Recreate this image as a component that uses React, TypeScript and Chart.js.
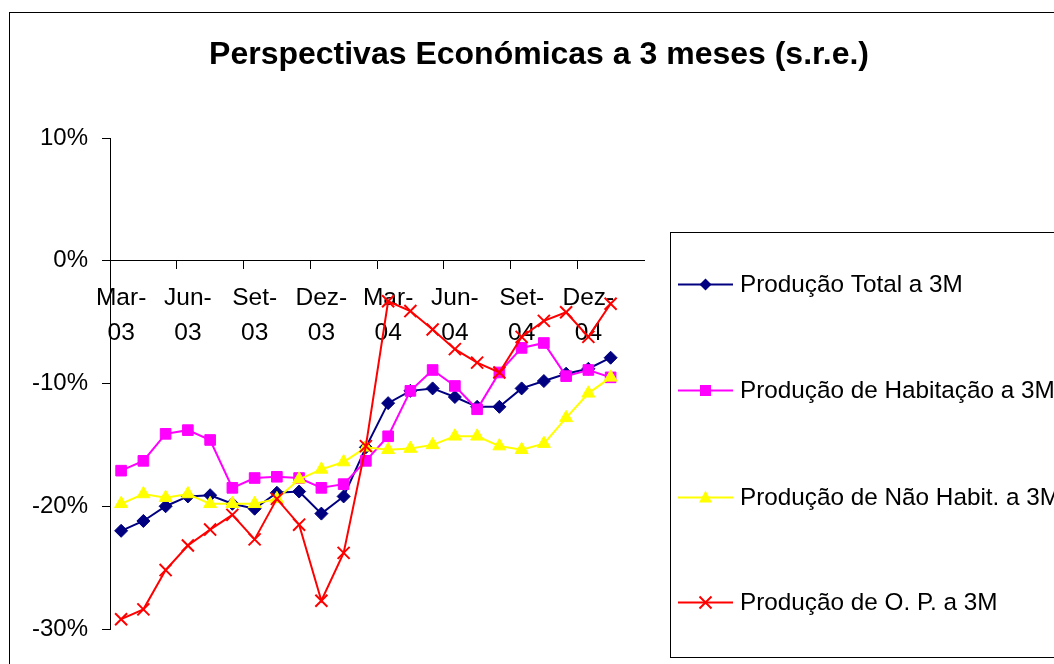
import React, { useEffect, useRef } from 'react';
import { Chart, registerables } from 'chart.js';

Chart.register(...registerables);

const FONT = '"Liberation Sans", Arial, Helvetica, sans-serif';

const chartTitle = 'Perspectivas Económicas a 3 meses (s.r.e.)';

const categories = [
  'Mar-03', 'Abr-03', 'Mai-03', 'Jun-03', 'Jul-03', 'Ago-03', 'Set-03', 'Out-03',
  'Nov-03', 'Dez-03', 'Jan-04', 'Fev-04', 'Mar-04', 'Abr-04', 'Mai-04', 'Jun-04',
  'Jul-04', 'Ago-04', 'Set-04', 'Out-04', 'Nov-04', 'Dez-04', 'Jan-05', 'Fev-05',
];

const producaoTotal = [
  -22.0, -21.2, -20.0, -19.2, -19.1, -19.8, -20.2, -18.9, -18.8, -20.6, -19.2, -15.2,
  -11.6, -10.6, -10.4, -11.1, -11.9, -11.9, -10.4, -9.8, -9.2, -8.8, -7.9,
];

const producaoHabitacao = [
  -17.1, -16.3, -14.1, -13.8, -14.6, -18.5, -17.7, -17.6, -17.7, -18.5, -18.2, -16.3,
  -14.3, -10.6, -8.9, -10.2, -12.1, -9.1, -7.1, -6.7, -9.4, -8.9, -9.5,
];

const producaoNaoHabit = [
  -19.8, -19.0, -19.3, -19.0, -19.8, -19.8, -19.8, -19.4, -17.8, -17.0, -16.4, -15.2,
  -15.4, -15.3, -15.0, -14.3, -14.3, -15.1, -15.4, -14.9, -12.8, -10.8, -9.5,
];

const producaoOP = [
  -29.2, -28.4, -25.2, -23.2, -21.9, -20.7, -22.7, -19.4, -21.5, -27.7, -23.8, -15.1,
  -3.3, -4.1, -5.6, -7.2, -8.3, -9.1, -6.2, -4.9, -4.2, -6.2, -3.5,
];

const seriesNames = [
  'Produção Total a 3M',
  'Produção de Habitação a 3M',
  'Produção de Não Habit. a 3M',
  'Produção de O. P. a 3M',
];

const yTicks = [-30, -20, -10, 0, 10];

function splitLabel(label: string): string[] {
  const [m, y] = label.split('-');
  return [m + '-', y];
}

function drawMarker(ctx: CanvasRenderingContext2D, style: string, x: number, y: number, color: string) {
  ctx.save();
  ctx.fillStyle = color;
  ctx.strokeStyle = color;
  ctx.lineWidth = 1;
  ctx.beginPath();
  if (style === 'rectRot') {
    const r = 6;
    ctx.moveTo(x - r, y);
    ctx.lineTo(x, y - r);
    ctx.lineTo(x + r, y);
    ctx.lineTo(x, y + r);
    ctx.closePath();
    ctx.fill();
  } else if (style === 'rect') {
    ctx.rect(x - 5.5, y - 5.5, 11, 11);
    ctx.fill();
  } else if (style === 'triangle') {
    ctx.moveTo(x, y - 7);
    ctx.lineTo(x + 6.5, y + 5);
    ctx.lineTo(x - 6.5, y + 5);
    ctx.closePath();
    ctx.fill();
  } else {
    ctx.lineWidth = 2;
    const d = 6;
    ctx.moveTo(x - d, y - d);
    ctx.lineTo(x + d, y + d);
    ctx.moveTo(x + d, y - d);
    ctx.lineTo(x - d, y + d);
    ctx.stroke();
  }
  ctx.restore();
}

const framePlugin = {
  id: 'frame',
  beforeDraw(chart: any) {
    const ctx: CanvasRenderingContext2D = chart.ctx;
    ctx.save();
    ctx.fillStyle = '#ffffff';
    ctx.fillRect(0, 0, chart.width, chart.height);
    ctx.strokeStyle = '#000000';
    ctx.lineWidth = 1;
    ctx.strokeRect(9.5, 12.5, 3000, 3000);
    ctx.fillStyle = '#000000';
    ctx.font = `bold 32px ${FONT}`;
    ctx.textAlign = 'center';
    ctx.textBaseline = 'middle';
    ctx.fillText(chartTitle, 539, 55);
    ctx.restore();
  },
  afterDraw(chart: any) {
    const ctx: CanvasRenderingContext2D = chart.ctx;
    ctx.save();
    ctx.strokeStyle = '#000000';
    ctx.lineWidth = 1;
    ctx.strokeRect(670.5, 232.5, 1000, 425);
    const rows = [284, 390, 497, 602];
    chart.data.datasets.forEach((ds: any, i: number) => {
      const y = rows[i];
      ctx.strokeStyle = ds.borderColor;
      ctx.lineWidth = 2;
      ctx.beginPath();
      ctx.moveTo(678, y + 0.5);
      ctx.lineTo(733, y + 0.5);
      ctx.stroke();
      drawMarker(ctx, ds.pointStyle, 705.5, y + 0.5, ds.borderColor);
      ctx.fillStyle = '#000000';
      ctx.font = `24.3px ${FONT}`;
      ctx.textAlign = 'left';
      ctx.textBaseline = 'middle';
      ctx.fillText(ds.label, 740, y + 1);
    });
    ctx.restore();
  },
};

export default function App() {
  const ref = useRef<HTMLCanvasElement>(null);

  useEffect(() => {
    if (!ref.current) return;
    const chart = new Chart(ref.current, {
      type: 'line',
      data: {
        labels: categories,
        datasets: [
          {
            label: seriesNames[0],
            data: producaoTotal,
            borderColor: '#000080',
            backgroundColor: '#000080',
            pointBackgroundColor: '#000080',
            pointBorderColor: '#000080',
            pointStyle: 'rectRot',
            pointRadius: 6.5,
            pointBorderWidth: 1,
            borderWidth: 2,
            order: 4,
          },
          {
            label: seriesNames[1],
            data: producaoHabitacao,
            borderColor: '#FF00FF',
            backgroundColor: '#FF00FF',
            pointBackgroundColor: '#FF00FF',
            pointBorderColor: '#FF00FF',
            pointStyle: 'rect',
            pointRadius: 7.5,
            pointBorderWidth: 1,
            borderWidth: 2,
            order: 3,
          },
          {
            label: seriesNames[2],
            data: producaoNaoHabit,
            borderColor: '#FFFF00',
            backgroundColor: '#FFFF00',
            pointBackgroundColor: '#FFFF00',
            pointBorderColor: '#FFFF00',
            pointStyle: 'triangle',
            pointRadius: 7.5,
            pointBorderWidth: 1,
            borderWidth: 2,
            order: 2,
          },
          {
            label: seriesNames[3],
            data: producaoOP,
            borderColor: '#FF0000',
            backgroundColor: '#FF0000',
            pointBackgroundColor: '#FF0000',
            pointBorderColor: '#FF0000',
            pointStyle: 'crossRot',
            pointRadius: 8.5,
            pointBorderWidth: 2,
            borderWidth: 2,
            order: 1,
          },
        ],
      },
      options: {
        responsive: false,
        animation: false,
        devicePixelRatio: 1,
        layout: { padding: { top: 138, bottom: 35, right: 410, left: 0 } },
        plugins: {
          legend: { display: false },
          title: { display: false },
          tooltip: { enabled: false },
        },
        elements: { line: { tension: 0 } },
        scales: {
          x: {
            type: 'category',
            offset: true,
            position: { y: 0 } as any,
            grid: {
              display: true,
              offset: true,
              drawOnChartArea: false,
              drawTicks: true,
              tickLength: 8,
              lineWidth: 1,
              color: (c: any) => (c.index % 3 === 0 ? '#000000' : 'rgba(0,0,0,0)'),
            },
            border: { display: true, color: '#000000', width: 1 },
            ticks: {
              autoSkip: false,
              maxRotation: 0,
              minRotation: 0,
              padding: 12,
              color: '#000000',
              font: { family: FONT, size: 24.5, lineHeight: 1.42 },
              callback: (_v: any, i: number) => (i % 3 === 0 ? splitLabel(categories[i]) : ''),
            },
            afterFit: (s: any) => {
              s.height = 0;
            },
          },
          y: {
            min: yTicks[0],
            max: yTicks[yTicks.length - 1],
            afterBuildTicks: (s: any) => {
              s.ticks = yTicks.map((v) => ({ value: v }));
            },
            grid: {
              drawOnChartArea: false,
              drawTicks: true,
              tickLength: 8,
              color: '#000000',
              lineWidth: 1,
            },
            border: { display: true, color: '#000000', width: 1 },
            ticks: {
              padding: 14,
              color: '#000000',
              font: { family: FONT, size: 24 },
              callback: (v: any) => v + '%',
            },
            afterFit: (s: any) => {
              s.width = 110;
            },
          },
        },
      },
      plugins: [framePlugin],
    });
    return () => chart.destroy();
  }, []);

  return (
    <div style={{ position: 'fixed', left: 0, top: 0, width: 1054, height: 664, overflow: 'hidden', background: '#fff' }}>
      <canvas ref={ref} width={1054} height={664} style={{ display: 'block' }} />
    </div>
  );
}
